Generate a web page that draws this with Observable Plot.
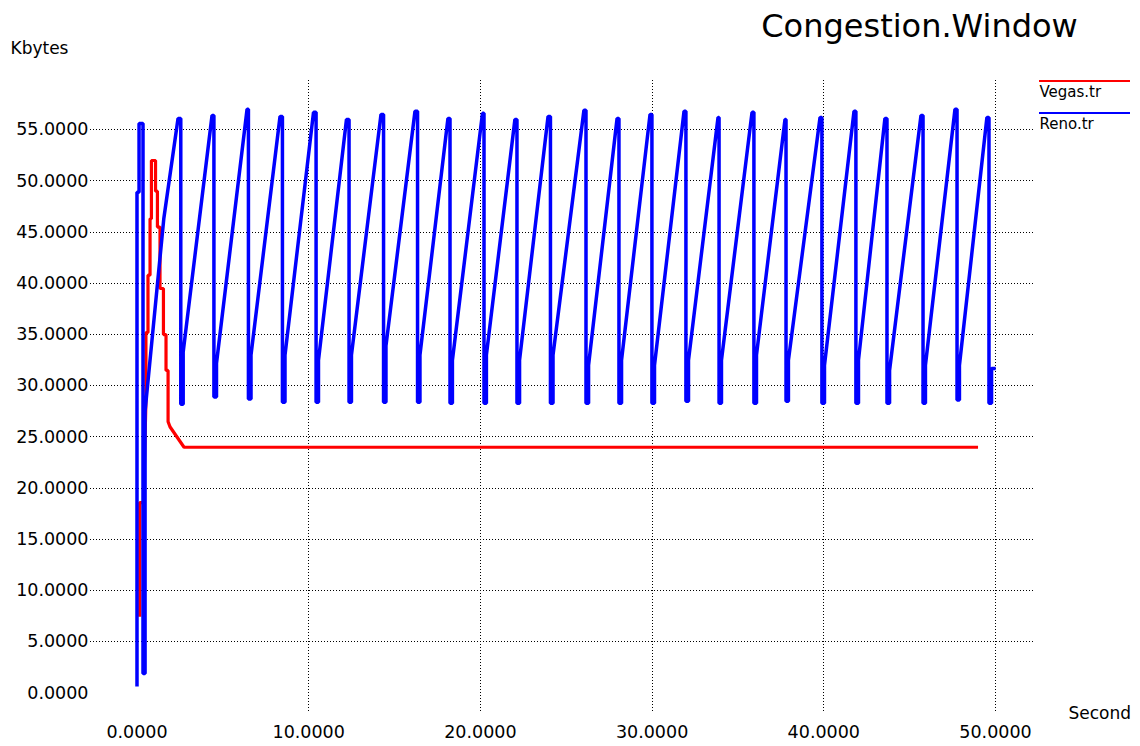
<!DOCTYPE html>
<html>
<head>
<meta charset="utf-8">
<script src="https://cdn.jsdelivr.net/npm/d3@7"></script>
<script src="https://cdn.jsdelivr.net/npm/@observablehq/plot@0.6"></script>
<style>
  html, body { margin: 0; padding: 0; background: #fff; }
  #chart svg { display: block; }
</style>
</head>
<body>
<div id="chart"></div>
<script>
// ---- chart text ----
const title = "Congestion.Window";
const yLabel = "Kbytes";
const xLabel = "Second";
const seriesNames = ["Vegas.tr", "Reno.tr"];
const seriesColors = ["#ff0000", "#0000ff"];

// ---- tick values ----
const xTicks = [0, 10, 20, 30, 40, 50];
const yTicks = [0, 5, 10, 15, 20, 25, 30, 35, 40, 45, 50, 55];

// ---- Vegas.tr (time in s, cwnd in Kbytes) ----
const vegasT = [0.16, 0.16, 0.38, 0.52, 0.52, 0.64, 0.64, 0.76, 0.76, 0.84, 0.84, 1.08, 1.08, 1.19, 1.19, 1.34, 1.34, 1.54, 1.54, 1.69, 1.69, 1.81, 1.81, 1.92, 2.74, 48.89];
const vegasV = [7.6, 18.6, 18.6, 28.5, 35.2, 35.2, 40.8, 40.8, 46.3, 46.3, 52.0, 52.0, 49.0, 49.0, 45.5, 45.5, 39.5, 39.5, 35.0, 35.0, 31.5, 31.5, 26.5, 26.0, 24.0, 24.0];

// ---- Reno.tr (time in s, cwnd in Kbytes) ----
const renoT = [
  0.00, 0.00, 0.12, 0.12, 0.35, 0.35, 0.47, 0.47, 1.56,
  2.39, 2.55, 2.55, 2.69, 2.69,
  4.37, 4.48, 4.48, 4.63, 4.63,
  6.41, 6.49, 6.49, 6.64, 6.64,
  8.33, 8.47, 8.47, 8.62, 8.62,
  10.28, 10.43, 10.43, 10.57, 10.57,
  12.20, 12.35, 12.35, 12.49, 12.49,
  14.21, 14.36, 14.36, 14.50, 14.50,
  16.19, 16.34, 16.34, 16.48, 16.48,
  18.11, 18.23, 18.23, 18.37, 18.37,
  20.12, 20.21, 20.21, 20.35, 20.35,
  22.01, 22.13, 22.13, 22.28, 22.28,
  23.94, 24.08, 24.08, 24.23, 24.23,
  26.03, 26.15, 26.15, 26.30, 26.30,
  27.96, 28.07, 28.07, 28.22, 28.22,
  29.88, 29.99, 29.99, 30.14, 30.14,
  31.86, 31.97, 31.97, 32.12, 32.12,
  33.84, 33.90, 33.90, 34.04, 34.04,
  35.82, 35.93, 35.93, 36.08, 36.08,
  37.74, 37.80, 37.80, 37.94, 37.94,
  39.78, 39.89, 39.89, 40.04, 40.04,
  41.76, 41.87, 41.87, 42.02, 42.02,
  43.56, 43.68, 43.68, 43.83, 43.83,
  45.66, 45.78, 45.78, 45.92, 45.92,
  47.64, 47.76, 47.76, 47.90, 47.90,
  49.50, 49.62, 49.62, 49.77, 49.77, 49.91
];
const renoV = [
  0.8, 48.9, 48.9, 55.6, 55.6, 1.9, 1.9, 27.5, 46.3,
  56.1, 56.1, 28.2, 28.2, 33.3,
  56.4, 56.4, 28.9, 28.9, 32.2,
  57.0, 57.0, 28.7, 28.7, 33.0,
  56.3, 56.3, 28.4, 28.4, 33.0,
  56.7, 56.7, 28.4, 28.4, 32.5,
  56.0, 56.0, 28.4, 28.4, 33.0,
  56.5, 56.5, 28.4, 28.4, 33.9,
  56.8, 56.8, 28.4, 28.4, 33.0,
  56.1, 56.1, 28.3, 28.3, 32.5,
  56.6, 56.6, 28.3, 28.3, 33.0,
  56.0, 56.0, 28.3, 28.3, 32.5,
  56.3, 56.3, 28.3, 28.3, 33.0,
  56.9, 56.9, 28.3, 28.3, 32.0,
  56.1, 56.1, 28.3, 28.3, 32.5,
  56.5, 56.5, 28.3, 28.3, 32.0,
  56.8, 56.8, 28.5, 28.5, 32.5,
  56.2, 56.2, 28.3, 28.3, 32.5,
  56.7, 56.7, 28.3, 28.3, 33.0,
  56.0, 56.0, 28.5, 28.5, 32.5,
  56.2, 56.2, 28.3, 28.3, 32.0,
  56.8, 56.8, 28.3, 28.3, 32.5,
  56.1, 56.1, 28.3, 28.3, 31.5,
  56.4, 56.4, 28.3, 28.3, 32.0,
  57.0, 57.0, 28.6, 28.6, 32.0,
  56.2, 56.2, 28.3, 28.3, 31.7, 31.7
];

const vegas = vegasT.map((t, i) => ({t, v: vegasV[i]}));
const reno = renoT.map((t, i) => ({t, v: renoV[i]}));

const W = 1140, H = 746;
const mL = 90, mR = 105, mT = 80, mB = 33;
const fmt = d => d.toFixed(4);
const font = "DejaVu Sans";

const chart = Plot.plot({
  width: W,
  height: H,
  marginLeft: mL,
  marginRight: mR,
  marginTop: mT,
  marginBottom: mB,
  style: {fontFamily: font, fontSize: "17.5px", background: "#fff", color: "#000", overflow: "visible"},
  x: {domain: [-2.708, 52.33], label: null},
  y: {domain: [-2.0, 59.81], label: null},
  marks: [
    Plot.ruleY(yTicks.filter(d => d > 0), {stroke: "#000", strokeWidth: 1, strokeDasharray: "1,2", shapeRendering: "crispEdges"}),
    Plot.ruleX(xTicks.filter(d => d > 0), {stroke: "#000", strokeWidth: 1, strokeDasharray: "1,2", shapeRendering: "crispEdges"}),
    Plot.line(vegas, {x: "t", y: "v", stroke: seriesColors[0], strokeWidth: 3.2, strokeLinejoin: "miter", strokeLinecap: "square"}),
    Plot.line(reno, {x: "t", y: "v", stroke: seriesColors[1], strokeWidth: 3.5, strokeLinejoin: "miter", strokeLinecap: "square"}),
    Plot.axisY({ticks: yTicks, tickSize: 0, tickPadding: 2, tickFormat: fmt, label: null, fontSize: 17.5}),
    Plot.axisX({ticks: xTicks, tickSize: 0, tickPadding: 12, tickFormat: fmt, label: null, fontSize: 17.5}),
    Plot.text([title], {text: d => d, frameAnchor: "top", dx: 356.5, dy: -53.5, fontSize: 32, lineAnchor: "middle", fill: "#000"}),
    Plot.text([yLabel], {text: d => d, frameAnchor: "top-left", textAnchor: "start", dx: -80, dy: -31.7, fontSize: 17, lineAnchor: "middle", fill: "#000"}),
    Plot.text([xLabel], {text: d => d, frameAnchor: "bottom-right", textAnchor: "start", dx: 33, dy: 0.4, fontSize: 17, lineAnchor: "middle", fill: "#000"}),
    Plot.text([seriesNames[0]], {text: d => d, frameAnchor: "top-right", textAnchor: "start", dx: 4, dy: 11.2, fontSize: 15, lineAnchor: "middle", fill: "#000"}),
    Plot.text([seriesNames[1]], {text: d => d, frameAnchor: "top-right", textAnchor: "start", dx: 4, dy: 43.2, fontSize: 15, lineAnchor: "middle", fill: "#000"})
  ]
});

// legend swatch lines
const svg = d3.select(chart);
const legendY = [81, 113];
legendY.forEach((y, i) => {
  svg.append("line")
    .attr("x1", W - mR + 4).attr("x2", W - 10)
    .attr("y1", y).attr("y2", y)
    .attr("stroke", seriesColors[i]).attr("stroke-width", 2);
});

document.getElementById("chart").appendChild(chart);
</script>
</body>
</html>
